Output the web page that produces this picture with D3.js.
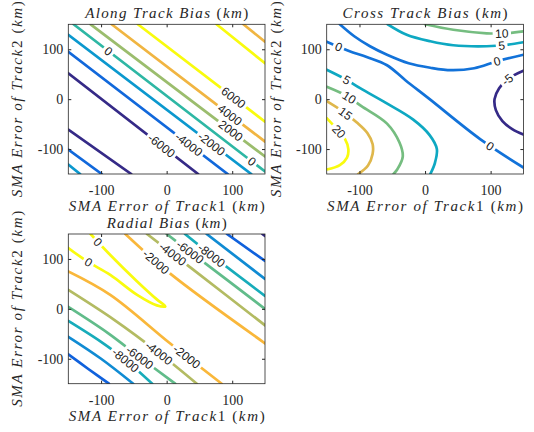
<!DOCTYPE html>
<html>
<head>
<meta charset="utf-8">
<script src="https://cdn.jsdelivr.net/npm/d3@7"></script>
<style>
body { margin: 0; background: #fff; }
svg { display: block; }
.tick text { font-family: "Liberation Serif", "Times New Roman", serif; font-size: 14px; fill: #262626; }
.tick line { stroke: #262626; }
.clabel { font-family: "Liberation Sans", Arial, sans-serif; font-size: 12px; fill: #1a1a1a; }
.mathtext { font-family: "Liberation Serif", "Times New Roman", serif; font-size: 15px; fill: #262626; }
</style>
</head>
<body>
<svg id="fig" width="534" height="432"></svg>
<script>
// 坐标轴范围和刻度
const axisRange = [-150, 150];
const xTicks = [-100, 0, 100];
const yTicks = [-100, 0, 100];

// parula 色图
const parulaT = [0, 0.125, 0.25, 0.375, 0.5, 0.625, 0.75, 0.85, 1];
const parulaHex = ['#352a87', '#0f5cdd', '#1481d6', '#06a4ca', '#2eb7a4', '#87bf77', '#c4ba5a', '#f9b43c', '#f9fb0e'];

// Along Track Bias
const alongLevels = [-6000, -4000, -2000, 0, 2000, 4000, 6000];
const alongLines = [
    { level: -2000, pts: [[-150, -131], [-132, -150]] },
    { level: -4000, pts: [[-150, -101], [-99, -150]] },
    { level: -6000, pts: [[-150, -61], [-54, -150]] },
    { level: -6000, pts: [[-150, 52], [48, -150]] },
    { level: -4000, pts: [[-150, 95], [93, -150]] },
    { level: -2000, pts: [[-150, 129], [129, -150]] },
    { level: 0, pts: [[-142, 150], [150, -145]] },
    { level: 2000, pts: [[-116, 150], [150, -115]] },
    { level: 4000, pts: [[-84, 150], [150, -85]] },
    { level: 6000, pts: [[-44, 150], [150, -45]] },
    { level: 6000, pts: [[76, 150], [150, 72]] },
    { level: 4000, pts: [[117, 150], [150, 115]] }
];
const alongLabels = [[0, -91, 92], [6000, 101, 2], [4000, 96, -33], [2000, 100, -60], [0, 129, -126],
    [-2000, 68, -90], [-4000, 33, -92], [-6000, -8, -94]];

// Cross Track Bias
const crossLevels = [-5, 0, 5, 10, 15, 20];
const crossLines = [
    { level: -5, pts: [[150, 57], [128, 42], [113, 22], [106, 0], [108, -22], [118, -44], [133, -60], [150, -71]] },
    { level: 0, pts: [[-130, 150], [-108, 126], [-84, 106], [-58, 89], [-25, 72], [8, 63], [40, 58], [75, 62], [110, 76], [150, 89]] },
    { level: 0, pts: [[-150, 115], [-132, 105], [-115, 96], [-88, 84], [-58, 68], [-30, 38], [7, 0], [84, -80], [150, -137]] },
    { level: 5, pts: [[-57, 150], [-28, 129], [8, 116], [43, 108], [94, 106], [125, 109], [150, 114]] },
    { level: 10, pts: [[0, 150], [43, 139], [94, 132], [120, 132], [150, 136]] },
    { level: 5, pts: [[-150, 59], [-120, 39], [-99, 22], [-59, -8], [-18, -41], [7, -72], [18, -100], [15, -128], [8, -150]] },
    { level: 10, pts: [[-150, 25], [-120, 7], [-97, -14], [-58, -49], [-39, -87], [-34, -115], [-42, -140], [-48, -150]] },
    { level: 15, pts: [[-150, -4], [-125, -25], [-104, -47], [-88, -68], [-80, -90], [-80, -110], [-87, -133], [-102, -150]] },
    { level: 20, pts: [[-150, -38], [-136, -58], [-122, -80], [-117, -100], [-119, -117], [-130, -132], [-150, -141]] }
];
const crossLabels = [[0, -132, 105], [0, 110, 76], [0, 99, -95], [5, 117, 109], [10, 117, 132], [-5, 127, 36],
    [5, -119, 39], [10, -117, 1], [15, -123, -32], [20, -134, -68]];

// Radial Bias
const radialLevels = [-14000, -12000, -10000, -8000, -6000, -4000, -2000, 0];
const radialLines = [
    { level: 0, pts: [[-116, 150], [-86, 108], [-45, 55], [-15, 19], [-2, 5], [-15, 7], [-45, 28], [-86, 68], [-121, 95], [-150, 122]] },
    { level: -2000, pts: [[-63, 150], [5, 71], [150, -69]] },
    { level: -4000, pts: [[-30, 150], [40, 79], [150, -33]] },
    { level: -6000, pts: [[0, 150], [40, 110], [150, 0]] },
    { level: -8000, pts: [[28, 150], [66, 110], [150, 26]] },
    { level: -10000, pts: [[61, 150], [150, 60]] },
    { level: -12000, pts: [[92, 150], [150, 96]] },
    { level: -14000, pts: [[146, 150], [150, 146]] },
    { level: -2000, pts: [[-150, 75], [-86, 28], [5, -69], [84, -150]] },
    { level: -4000, pts: [[-150, 38], [-80, -22], [-12, -88], [46, -150]] },
    { level: -6000, pts: [[-150, 4], [-90, -48], [-42, -96], [13, -150]] },
    { level: -8000, pts: [[-150, -24], [-100, -66], [-65, -100], [-22, -150]] },
    { level: -10000, pts: [[-150, -56], [-100, -100], [-51, -150]] },
    { level: -12000, pts: [[-150, -91], [-120, -120], [-88, -150]] }
];
const radialLabels = [[0, -104, 134], [0, -119, 94], [-2000, -18, 92], [-4000, 9, 109], [-6000, 37, 117], [-8000, 66, 104],
    [-2000, 28, -100], [-4000, -13, -90], [-6000, -42, -98], [-8000, -65, -106]];

// 标题: [文本, 是否斜体]
const alongTitle = [['Along Track Bias ', true], ['(', false], ['km', true], [')', false]];
const crossTitle = [['Cross Track Bias ', true], ['(', false], ['km', true], [')', false]];
const radialTitle = [['Radial Bias ', true], ['(', false], ['km', true], [')', false]];
const xLabelParts = [['SMA Error of Track', true], ['1', false], [' (', false], ['km', true], [')', false]];
const yLabelParts = [['SMA Error of Track', true], ['2', false], [' (', false], ['km', true], [')', false]];

const panels = [
    { title: alongTitle, titleW: 163, levels: alongLevels, lines: alongLines, labels: alongLabels, left: 68.3, top: 24.3 },
    { title: crossTitle, titleW: 165, levels: crossLevels, lines: crossLines, labels: crossLabels, left: 326.7, top: 24.3 },
    { title: radialTitle, titleW: 120, levels: radialLevels, lines: radialLines, labels: radialLabels, left: 68.3, top: 234 }
];
const panelW = 196.7, panelH = 149.7;

const svg = d3.select('#fig');
const defs = svg.append('defs');

// 数学模式文本(斜体字母+正体数字括号)
function mathText(parent, parts, width) {
    const t = parent.append('text').attr('class', 'mathtext').attr('text-anchor', 'middle');
    parts.forEach(([s, it]) => {
        t.append('tspan').text(s).style('font-style', it ? 'italic' : 'normal');
    });
    t.attr('textLength', width).attr('lengthAdjust', 'spacing');
    return t;
}

function drawPanel(p, idx) {
    const x = d3.scaleLinear().domain(axisRange).range([p.left, p.left + panelW]);
    const y = d3.scaleLinear().domain(axisRange).range([p.top + panelH, p.top]);
    const lo = d3.min(p.levels), hi = d3.max(p.levels);
    const color = d3.scaleLinear()
        .domain(parulaT.map(t => lo + t * (hi - lo)))
        .range(parulaHex);

    const g = svg.append('g').attr('class', 'panel');
    defs.append('clipPath').attr('id', `clip${idx}`).append('rect')
        .attr('x', p.left).attr('y', p.top).attr('width', panelW).attr('height', panelH);
    const mask = defs.append('mask').attr('id', `mask${idx}`)
        .attr('maskUnits', 'userSpaceOnUse')
        .attr('x', 0).attr('y', 0).attr('width', 534).attr('height', 432);
    mask.append('rect').attr('width', 534).attr('height', 432).attr('fill', '#fff');

    const line = d3.line()
        .x(d => x(d[0]))
        .y(d => y(d[1]))
        .curve(d3.curveCatmullRom.alpha(0.5));

    const lineG = g.append('g').attr('clip-path', `url(#clip${idx})`)
        .append('g').attr('mask', `url(#mask${idx})`);
    const paths = lineG.selectAll('path')
        .data(p.lines)
        .enter()
        .append('path')
        .attr('d', d => line(d.pts))
        .attr('fill', 'none')
        .attr('stroke', d => color(d.level))
        .attr('stroke-width', 2.7)
        .attr('stroke-linecap', 'round')
        .attr('stroke-linejoin', 'round');

    // 等值线标签: 找到线上最近点, 沿线旋转
    p.labels.forEach(([lev, lx, ly]) => {
        const tx = x(lx), ty = y(ly);
        let best = { dist: Infinity };
        paths.filter(d => d.level === lev).each(function () {
            const len = this.getTotalLength();
            for (let s = 0; s <= len; s += 0.5) {
                const pt = this.getPointAtLength(s);
                const dd = (pt.x - tx) ** 2 + (pt.y - ty) ** 2;
                if (dd < best.dist) best = { dist: dd, node: this, s: s, len: len, pt: pt };
            }
        });
        if (!best.node) return;
        const a = best.node.getPointAtLength(Math.max(0, best.s - 3));
        const b = best.node.getPointAtLength(Math.min(best.len, best.s + 3));
        let ang = Math.atan2(b.y - a.y, b.x - a.x) * 180 / Math.PI;
        if (ang > 90) ang -= 180;
        if (ang < -90) ang += 180;
        const tr = `translate(${best.pt.x},${best.pt.y}) rotate(${ang})`;
        const txt = g.append('text')
            .attr('class', 'clabel')
            .attr('transform', tr)
            .attr('text-anchor', 'middle')
            .attr('dy', '0.36em')
            .text(String(lev));
        const w = txt.node().getComputedTextLength();
        mask.append('rect')
            .attr('x', -w / 2 - 2.5).attr('y', -6)
            .attr('width', w + 5).attr('height', 12)
            .attr('transform', tr)
            .attr('fill', '#000');
    });

    // 坐标轴(刻度向内)
    const fmt = d => String(d);
    g.append('g').attr('transform', `translate(0,${p.top + panelH})`)
        .call(d3.axisBottom(x).tickValues(xTicks).tickSizeInner(-3).tickSizeOuter(0).tickPadding(11).tickFormat(fmt))
        .call(a => a.select('.domain').remove());
    g.append('g').attr('transform', `translate(${p.left},0)`)
        .call(d3.axisLeft(y).tickValues(yTicks).tickSizeInner(-3).tickSizeOuter(0).tickPadding(5).tickFormat(fmt))
        .call(a => a.select('.domain').remove());
    g.append('g').attr('transform', `translate(0,${p.top})`)
        .call(d3.axisTop(x).tickValues(xTicks).tickSizeInner(-3).tickSizeOuter(0).tickFormat(''))
        .call(a => a.select('.domain').remove());
    g.append('g').attr('transform', `translate(${p.left + panelW},0)`)
        .call(d3.axisRight(y).tickValues(yTicks).tickSizeInner(-3).tickSizeOuter(0).tickFormat(''))
        .call(a => a.select('.domain').remove());

    g.append('rect')
        .attr('x', p.left).attr('y', p.top)
        .attr('width', panelW).attr('height', panelH)
        .attr('fill', 'none')
        .attr('stroke', '#262626')
        .attr('stroke-width', 0.8);

    // 标题与轴标签
    mathText(g, p.title, p.titleW)
        .attr('x', p.left + panelW / 2).attr('y', p.top - 6);
    mathText(g, xLabelParts, 196)
        .attr('x', p.left + panelW / 2).attr('y', p.top + panelH + 37);
    mathText(g, yLabelParts, 196)
        .attr('transform', `translate(${p.left - 46},${p.top + panelH / 2}) rotate(-90)`);
}

panels.forEach(drawPanel);
</script>
</body>
</html>
